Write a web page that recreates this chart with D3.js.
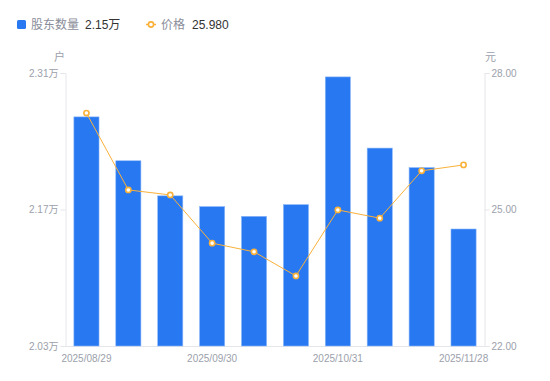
<!DOCTYPE html>
<html><head><meta charset="utf-8">
<script src="https://cdn.jsdelivr.net/npm/d3@7"></script>
<style>
html,body{margin:0;padding:0;background:#fff;}
svg{display:block;font-family:"Liberation Sans","Noto Sans CJK SC",sans-serif;}
</style></head>
<body><svg id="c" width="550" height="381"></svg>
<script>
const categories = ["2025/08/29","2025/09/12","2025/09/19","2025/09/30","2025/10/10","2025/10/20","2025/10/31","2025/11/10","2025/11/20","2025/11/28"];
const holders = [2.265, 2.220, 2.184, 2.173, 2.163, 2.175, 2.306, 2.233, 2.213, 2.150];
const prices = [27.12, 25.43, 25.32, 24.26, 24.07, 23.54, 24.99, 24.81, 25.85, 25.98];
const xTickLabels = ["2025/08/29","2025/09/30","2025/10/31","2025/11/28"];
const leftTicks = [2.03, 2.17, 2.31];
const rightTicks = [22.00, 25.00, 28.00];
const legendNames = ["股东数量","价格"];
const legendValues = ["2.15万","25.980"];

const svg = d3.select("#c");
const L = 65.5, R = 484.5, T = 73, B = 346;
const blue = "#2878F2", orange = "#F9B13A", axisCol = "#e5e6ea", labelCol = "#9c9fab";

const x = d3.scaleBand().domain(categories).range([L, R]).paddingInner(0.4).paddingOuter(0.2);
const yL = d3.scaleLinear().domain([2.03, 2.31]).range([B, T]);
const yR = d3.scaleLinear().domain([22, 28]).range([B, T]);
const cx = d => x(d) + x.bandwidth() / 2;

// axes
const gl = svg.append("g").attr("transform", `translate(${L},0)`)
  .call(d3.axisLeft(yL).tickValues(leftTicks).tickSize(5).tickFormat(d => d.toFixed(2) + "万"));
const gr = svg.append("g").attr("transform", `translate(${R},0)`)
  .call(d3.axisRight(yR).tickValues(rightTicks).tickSize(5).tickFormat(d => d.toFixed(2)));
[gl, gr].forEach(g => {
  g.select(".domain").attr("stroke", axisCol);
  g.selectAll(".tick line").attr("stroke", axisCol);
  g.selectAll(".tick text").attr("fill", labelCol).attr("font-size", 10)
    .attr("font-family", '"Liberation Sans","Noto Sans CJK SC",sans-serif');
});
gl.selectAll(".tick text").attr("x", -7);
gr.selectAll(".tick text").attr("x", 7);

// bottom axis line
svg.append("line").attr("x1", L).attr("x2", R).attr("y1", B + 0.5).attr("y2", B + 0.5).attr("stroke", axisCol);

// x tick labels (centered on their category)
svg.append("g").selectAll("text").data(xTickLabels).join("text")
  .attr("x", d => cx(d)).attr("y", 362).attr("text-anchor", "middle")
  .attr("font-size", 10).attr("fill", labelCol).text(d => d);

// unit labels
svg.append("text").attr("x", L - 6).attr("y", 61).attr("text-anchor", "middle").attr("font-size", 11).attr("fill", labelCol).text("户");
svg.append("text").attr("x", R + 6).attr("y", 61).attr("text-anchor", "middle").attr("font-size", 11).attr("fill", labelCol).text("元");

// bars
svg.append("g").selectAll("rect").data(categories).join("rect")
  .attr("x", d => x(d)).attr("width", x.bandwidth())
  .attr("y", (d, i) => yL(holders[i])).attr("height", (d, i) => B - yL(holders[i]))
  .attr("fill", blue).attr("stroke", "#8db8f8").attr("stroke-width", 0.6);

// line
svg.append("path").datum(categories)
  .attr("d", d3.line().x(d => cx(d)).y((d, i) => yR(prices[i])))
  .attr("fill", "none").attr("stroke", orange).attr("stroke-width", 1);
svg.append("g").selectAll("circle").data(categories).join("circle")
  .attr("cx", d => cx(d)).attr("cy", (d, i) => yR(prices[i])).attr("r", 2.6)
  .attr("fill", "#fff").attr("stroke", orange).attr("stroke-width", 1.6);

// legend
const lg = svg.append("g");
lg.append("rect").attr("x", 17).attr("y", 20).attr("width", 9).attr("height", 9).attr("rx", 1.5).attr("fill", blue);
lg.append("text").attr("x", 31).attr("y", 29).attr("font-size", 12).attr("fill", "#8a8d99").text(legendNames[0]);
lg.append("text").attr("x", 85).attr("y", 29).attr("font-size", 12).attr("fill", "#333").text(legendValues[0]);
lg.append("line").attr("x1", 146).attr("x2", 156).attr("y1", 24.5).attr("y2", 24.5).attr("stroke", orange).attr("stroke-width", 1.5);
lg.append("circle").attr("cx", 151).attr("cy", 24.5).attr("r", 2.6).attr("fill", "#fff").attr("stroke", orange).attr("stroke-width", 1.6);
lg.append("text").attr("x", 161).attr("y", 29).attr("font-size", 12).attr("fill", "#8a8d99").text(legendNames[1]);
lg.append("text").attr("x", 192).attr("y", 29).attr("font-size", 12).attr("fill", "#333").text(legendValues[1]);
</script></body></html>
